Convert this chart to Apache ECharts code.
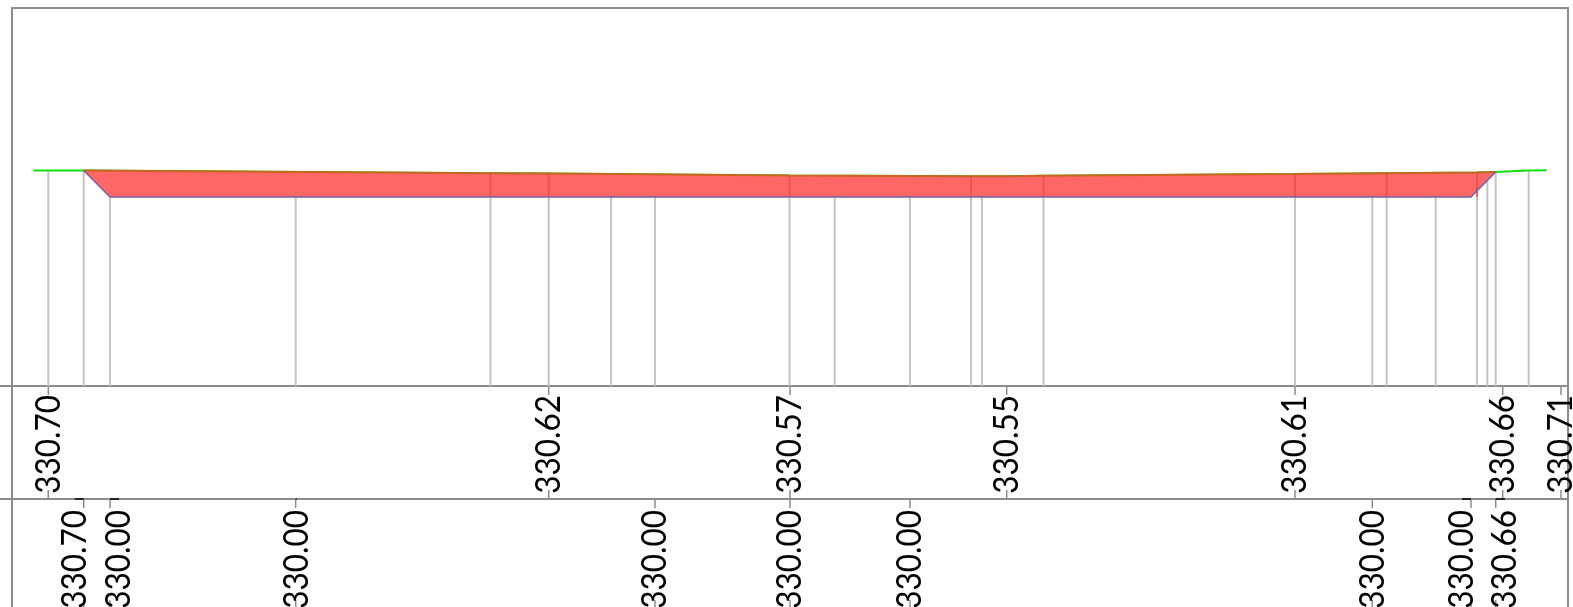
<!DOCTYPE html>
<html>
<head>
<meta charset="utf-8">
<style>
  html, body { margin: 0; padding: 0; background: #fff; overflow: hidden; }
  #chart { width: 1573px; height: 607px; }
</style>
<script src="https://cdn.jsdelivr.net/npm/echarts@6/dist/echarts.min.js"></script>
</head>
<body>
<div id="chart"></div>
<script>
// ground profile [station, elevation]
const groundStations = [21.5, 36.3, 71.7, 478.5, 536.7, 777.5, 959, 994.7, 1031.5, 1283, 1374.7, 1465, 1483.7, 1516.7, 1534.7]
const groundElevs = [330.70, 330.70, 330.70, 330.63, 330.62, 330.57, 330.55, 330.55, 330.56, 330.61, 330.63, 330.65, 330.66, 330.70, 330.71]

// channel bed
const bedStations = [71.7, 98, 1459, 1483.7]
const bedElevs = [330.70, 330.00, 330.00, 330.66]

// water surface, left bank to right bank
const waterStations = [71.7, 478.5, 536.7, 777.5, 959, 994.7, 1031.5, 1283, 1374.7, 1465, 1483.7]
const waterElevs = [330.70, 330.63, 330.62, 330.57, 330.55, 330.55, 330.56, 330.61, 330.63, 330.65, 330.66]

// vertical sample lines, down from topElev to the axis floor
const sampleStations = [36.3, 71.7, 98, 283.7, 478.5, 536.7, 599, 643, 777.5, 822.7, 898, 959, 970, 1031.5, 1283, 1360.3, 1374.7, 1423.7, 1465, 1475.3, 1483.7, 1516.7]
const sampleTops = [330.70, 330.70, 330.00, 330.00, 330.00, 330.00, 330.00, 330.00, 330.00, 330.00, 330.00, 330.00, 330.00, 330.00, 330.00, 330.00, 330.00, 330.00, 330.16, 330.43, 330.66, 330.70]

// section breaks drawn through the water
const breakStations = [478.5, 536.7, 777.5, 959, 1031.5, 1283, 1374.7, 1465]
const breakTops = [330.63, 330.62, 330.57, 330.55, 330.56, 330.61, 330.63, 330.65]

// first label row
const row1Stations = [36.3, 536.7, 778, 994.7, 1283, 1490.7, 1549]
const row1Labels = ['330.70', '330.62', '330.57', '330.55', '330.61', '330.66', '330.71']

// second label row: tick position and (shifted) label position
const row2Ticks = [71.7, 98, 283.7, 643, 778, 898, 1360.3, 1459, 1483.7]
const row2Stations = [62.7, 107, 284.7, 643, 778, 898, 1360.3, 1450, 1493]
const row2Labels = ['330.70', '330.00', '330.00', '330.00', '330.00', '330.00', '330.00', '330.00', '330.66']

const AXIS_GRAY = '#8c8c8c'
const LABEL_FONT = '35px Lato, "Liberation Sans", sans-serif'

const pairs = (xs, ys) => xs.map((x, i) => [x, ys[i]])

function gridOpt(top, height, borderWidth) {
  return {
    left: 12, width: 1556, top, height, show: true,
    backgroundColor: 'transparent', borderColor: AXIS_GRAY, borderWidth,
  }
}

function hiddenX(gridIndex) {
  return { type: 'value', gridIndex, min: 0, max: 1556, show: false }
}

function line(p1, p2, color, width) {
  return {
    type: 'line',
    shape: { x1: p1[0], y1: p1[1], x2: p2[0], y2: p2[1] },
    style: { stroke: color, lineWidth: width },
  }
}

function frameLine(x1, y1, x2, y2) {
  return { type: 'line', shape: { x1, y1, x2, y2 }, style: { stroke: AXIS_GRAY, lineWidth: 2 } }
}

function labelText(p, text, offset) {
  return {
    type: 'text',
    x: p[0],
    y: p[1] + offset,
    rotation: Math.PI / 2,
    scaleX: 0.9,
    style: { text, font: LABEL_FONT, fill: '#000', align: 'right', verticalAlign: 'middle' },
  }
}

const chart = echarts.init(document.getElementById('chart'), null, { renderer: 'canvas' })

chart.setOption({
  animation: false,
  grid: [gridOpt(8, 378, 2), gridOpt(386, 113, 2), gridOpt(499, 108, 0)],
  xAxis: [hiddenX(0), hiddenX(1), hiddenX(2)],
  yAxis: [
    { type: 'value', gridIndex: 0, min: 325, max: 335, show: false },
    { type: 'value', gridIndex: 1, min: 0, max: 1, inverse: true, show: false },
    { type: 'value', gridIndex: 2, min: 0, max: 1, inverse: true, show: false },
  ],
  graphic: [
    frameLine(0, 386, 12, 386),
    frameLine(0, 499, 12, 499),
    frameLine(12, 499, 12, 607),
    frameLine(1568, 499, 1568, 607),
  ],
  series: [
    {
      // sample lines
      type: 'custom', xAxisIndex: 0, yAxisIndex: 0, z: 2,
      data: pairs(sampleStations, sampleTops),
      renderItem: (params, api) => line(
        api.coord([api.value(0), api.value(1)]),
        api.coord([api.value(0), 325]),
        '#c4c4c4', 2),
    },
    {
      type: 'line', name: 'ground', xAxisIndex: 0, yAxisIndex: 0, z: 3,
      data: pairs(groundStations, groundElevs),
      showSymbol: false,
      lineStyle: { color: '#10e010', width: 2 },
    },
    {
      // water body
      type: 'custom', xAxisIndex: 0, yAxisIndex: 0, z: 4,
      data: [0],
      renderItem: (params, api) => {
        const top = pairs(waterStations, waterElevs)
        const bed = pairs(bedStations, bedElevs).slice(1, 3).reverse()
        return {
          type: 'polygon',
          shape: { points: top.concat(bed).map(p => api.coord(p)) },
          style: { fill: '#ff6666' },
        }
      },
    },
    {
      type: 'line', name: 'surface', xAxisIndex: 0, yAxisIndex: 0, z: 5,
      data: pairs(waterStations, waterElevs),
      showSymbol: false,
      lineStyle: { color: '#c8651f', width: 2 },
    },
    {
      type: 'line', name: 'bed', xAxisIndex: 0, yAxisIndex: 0, z: 5,
      data: pairs(bedStations, bedElevs),
      showSymbol: false,
      lineStyle: { color: '#7560a8', width: 1.5 },
    },
    {
      // section breaks
      type: 'custom', xAxisIndex: 0, yAxisIndex: 0, z: 5,
      data: pairs(breakStations, breakTops),
      renderItem: (params, api) => line(
        api.coord([api.value(0), api.value(1)]),
        api.coord([api.value(0), 330]),
        'rgba(225,80,80,0.8)', 2),
    },
    {
      // row 1 ticks and labels
      type: 'custom', xAxisIndex: 1, yAxisIndex: 1, z: 6,
      data: row1Stations.map((s, i) => [s, i]),
      renderItem: (params, api) => {
        const top = api.coord([api.value(0), 0])
        const bot = api.coord([api.value(0), 1])
        return {
          type: 'group',
          children: [
            line(top, [top[0], top[1] + 9], AXIS_GRAY, 1.5),
            line([bot[0], bot[1] - 9], bot, AXIS_GRAY, 1.5),
            labelText(top, row1Labels[api.value(1)], 9),
          ],
        }
      },
    },
    {
      // row 2 ticks, leaders and labels
      type: 'custom', xAxisIndex: 2, yAxisIndex: 2, z: 6,
      data: row2Stations.map((s, i) => [s, row2Ticks[i], i]),
      renderItem: (params, api) => {
        const lab = api.coord([api.value(0), 0])
        const tick = api.coord([api.value(1), 0])
        return {
          type: 'group',
          children: [
            line(tick, [tick[0], tick[1] + 9], AXIS_GRAY, 1.5),
            line([tick[0], tick[1] + 101], [tick[0], tick[1] + 108], AXIS_GRAY, 1.5),
            line(tick, lab, '#000', 1.5),
            labelText(lab, row2Labels[api.value(2)], 11),
          ],
        }
      },
    },
  ],
})
</script>
</body>
</html>
